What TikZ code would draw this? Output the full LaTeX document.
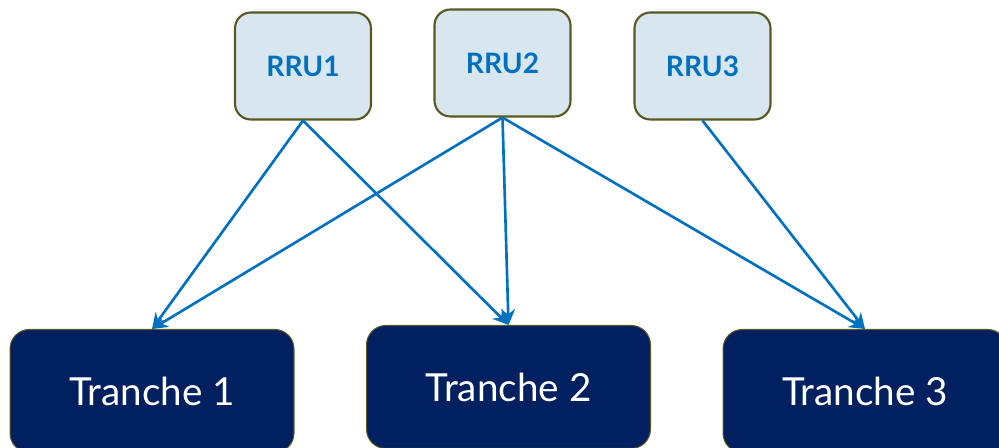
\documentclass[tikz,border=0pt]{standalone}
\usepackage{fontspec}
\setmainfont{Lato}
\usetikzlibrary{arrows.meta}
\definecolor{rrufill}{RGB}{216,230,240}
\definecolor{rruline}{RGB}{88,88,32}
\definecolor{rrutext}{RGB}{0,112,192}
\definecolor{navy}{RGB}{0,32,96}
\tikzset {>={Stealth[length=9pt,width=8pt]}}
\tikzset{
  rrubox/.style={draw=rruline,line width=1.2pt,fill=rrufill,rounded corners=9pt,
    minimum width=2.72cm,minimum height=2.14cm,text=rrutext,font=\bfseries\fontsize{16}{19}\selectfont},
  tranchebox/.style={draw=rruline,line width=0.6pt,fill=navy,rounded corners=11pt,
    minimum width=5.68cm,minimum height=2.46cm,text=white,font=\fontsize{22}{26}\selectfont},
  link/.style={draw=rrutext,line width=1.5pt,->}
}

\begin{document}
\begin{tikzpicture}[x=0.02cm,y=-0.02cm]
\useasboundingbox (0,0) rectangle (999,448);
\clip (0,0) rectangle (999,448);
\node[rrubox] (rru1) at (303,66) {RRU1};
\node[rrubox] (rru2) at (502.5,63) {RRU2};
\node[rrubox] (rru3) at (702.5,66) {RRU3};
\node[tranchebox] (t1) at (152,391) {Tranche 1};
\node[tranchebox] (t2) at (508.5,387) {Tranche 2};
\node[tranchebox] (t3) at (865,391) {Tranche 3};
\draw[link] (rru1.south) -- (t1.north);
\draw[link] (rru1.south) -- (t2.north);
\draw[link] (rru2.south) -- (t1.north);
\draw[link] (rru2.south) -- (t2.north);
\draw[link] (rru2.south) -- (t3.north);
\draw[link] (rru3.south) -- (t3.north);
\end{tikzpicture}
\end{document}
